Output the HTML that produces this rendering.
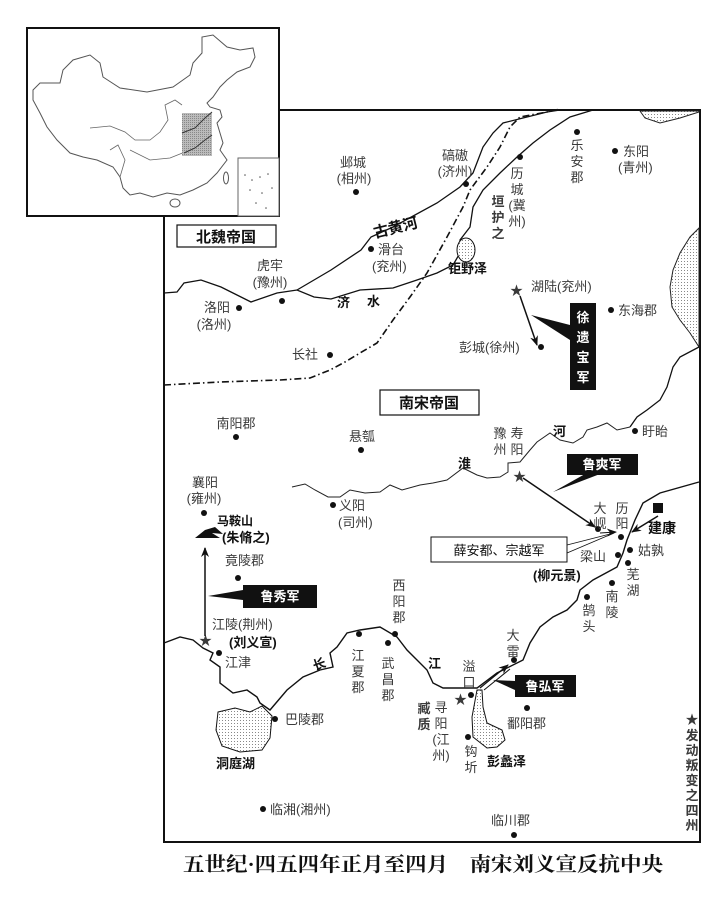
<!DOCTYPE html>
<html><head><meta charset="utf-8"><style>
html,body{margin:0;padding:0;background:#fff;}
svg{display:block;}
text{font-family:"Liberation Sans","Noto Sans CJK SC",sans-serif;font-size:13px;fill:#3a3a3a;}
.b{font-weight:bold;fill:#111;}
.v{text-anchor:middle;}
</style></head><body>
<svg width="727" height="899" viewBox="0 0 727 899" xmlns="http://www.w3.org/2000/svg">
<defs>
<pattern id="dots" width="3" height="3" patternUnits="userSpaceOnUse"><rect width="3" height="3" fill="#fff"/><rect width="1" height="1" fill="#888"/></pattern>
<pattern id="gray" width="2" height="2" patternUnits="userSpaceOnUse"><rect width="2" height="2" fill="#bbb"/><rect width="1" height="1" fill="#888"/></pattern>
<marker id="ah" markerWidth="10" markerHeight="8" refX="9" refY="4" orient="auto" markerUnits="userSpaceOnUse"><path d="M0,0 L10,4 L0,8 L3,4Z" fill="#111"/></marker>
</defs>

<rect x="164" y="110" width="536" height="732" fill="#fff" stroke="#111" stroke-width="2"/>

<rect x="27" y="28" width="252" height="188" fill="#fff" stroke="#111" stroke-width="2"/>
<path d="M33,90 L40,83 L60,83 L63,70 L73,60 L90,55 L100,63 L103,77 L120,88 L147,92 L173,87 L190,75 L193,63 L202,53 L202,37 L213,35 L227,47 L240,50 L253,48 L255,57 L250,67 L237,72 L227,80 L220,87 L213,97 L207,103 L210,107 L220,110 L222,117 L217,123 L220,133 L223,143 L220,150 L227,160 L217,173 L207,183 L193,190 L180,195 L167,193 L153,197 L140,193 L130,195 L123,188 L120,177 L113,167 L97,160 L83,157 L70,153 L57,140 L47,127 L40,113 L33,100Z" fill="none" stroke="#555" stroke-width="1"/>
<path d="M90,128 L110,126 L125,132 L135,140 L150,140 L160,132 L168,120 L165,105 L175,100 L182,105 M120,177 L125,160 L118,145 L110,150 M130,150 L150,160 L170,158 L190,150 L205,145" fill="none" stroke="#666" stroke-width="0.8"/>
<rect x="182" y="113" width="30" height="43" fill="url(#gray)"/>
<path d="M182,133 L195,128 L205,118 L212,112 M184,153 L195,148 L205,140 L212,135" fill="none" stroke="#333" stroke-width="1"/>
<rect x="238" y="158" width="41" height="58" fill="#fff" stroke="#666" stroke-width="1"/>
<ellipse cx="175" cy="203" rx="5" ry="4" fill="none" stroke="#555"/>
<ellipse cx="226" cy="178" rx="2.5" ry="6" fill="none" stroke="#555"/>
<g fill="#555"><circle cx="245" cy="175" r="0.8"/><circle cx="252" cy="180" r="0.8"/><circle cx="260" cy="177" r="0.8"/><circle cx="268" cy="174" r="0.8"/><circle cx="250" cy="190" r="0.8"/><circle cx="262" cy="193" r="0.8"/><circle cx="272" cy="188" r="0.8"/><circle cx="256" cy="203" r="0.8"/><circle cx="266" cy="208" r="0.8"/></g>

<path d="M640,111 L645,118 L660,123 L680,118 L699,112 L699,111Z" fill="url(#dots)" stroke="#222" stroke-width="1"/>
<path d="M699,228 L690,237 L680,253 L673,270 L670,287 L672,307 L680,320 L690,333 L699,347Z" fill="url(#dots)" stroke="#222" stroke-width="1"/>
<path d="M699,347 L680,357 L673,367 L667,387 L660,400 L647,410 L637,417 L630,427" fill="none" stroke="#111" stroke-width="1.3"/>

<path d="M164,293 L177,292 L184,283 L201,280 L221,287 L251,302 L277,293 L297,290 L314,297 L331,299 L360,290 L393,288 L417,280 L437,273 L453,265 L460,253 L460,240 L470,227 L473,207 L483,190 L500,173 L517,157 L533,143 L550,130 L570,117 L593,110" fill="none" stroke="#111" stroke-width="1.3"/>
<path d="M297,290 L331,270 L361,250 L371,237 L393,227 L437,203 L460,187 L473,173 L483,147 L493,133 L503,123 L527,117 L547,112 L560,110" fill="none" stroke="#111" stroke-width="1.3"/>
<ellipse cx="466" cy="250" rx="9" ry="12" fill="url(#dots)" stroke="#111" stroke-width="1"/>
<path d="M164,385 L220,382 L280,380 L310,378 L330,370 L345,362 L360,353 L377,343 L393,320 L410,297 L427,273 L447,237 L463,207 L470,190 L487,167 L500,147 L510,127 L520,117 L547,112 L560,109" fill="none" stroke="#111" stroke-width="1.6" stroke-dasharray="7,3,1.5,3"/>

<path d="M630,427 L617,430 L607,423 L597,427 L587,430 L583,437 L573,443 L560,440 L550,433 L537,442 L530,450 L520,462 L508,463 L508,472 L500,477 L487,478 L477,475 L463,468 L447,480 L433,483 L420,485 L402,490 L390,485 L380,492 L365,493 L350,490 L340,497 L328,497 L315,490 L305,484 L292,487" fill="none" stroke="#222" stroke-width="1"/>

<path d="M164,643 L180,637 L193,640 L203,648 L213,653 L210,660 L220,667 L220,683 L233,693 L247,690 L257,697 L260,703 L270,710 L287,690 L303,677 L320,670 L333,667 L330,653 L337,647 L347,633 L360,630 L380,627 L397,637 L407,650 L417,660 L427,670 L433,683 L443,688 L477,688 L497,673 L523,660 L530,643 L540,627 L553,617 L567,610 L577,600 L580,590 L593,580 L617,567 L623,553 L627,540 L635,520 L643,503 L660,493 L699,482" fill="none" stroke="#111" stroke-width="1.4"/>
<path d="M218,712 L235,708 L250,712 L262,706 L272,716 L270,738 L262,750 L240,752 L222,746 L216,730Z" fill="url(#dots)" stroke="#111" stroke-width="1"/>
<path d="M477,690 L482,690 L483,707 L487,723 L502,730 L505,740 L497,747 L487,748 L473,737 L472,717Z" fill="url(#dots)" stroke="#111" stroke-width="1"/>

<rect x="177" y="225" width="99" height="22" fill="#fff" stroke="#111" stroke-width="1.2"/>
<text x="226" y="242" class="b v" style="font-size:15px">北魏帝国</text>
<rect x="380" y="390" width="99" height="25" fill="#fff" stroke="#111" stroke-width="1.2"/>
<text x="429" y="408" class="b v" style="font-size:15px">南宋帝国</text>

<g fill="#111">
<circle cx="356" cy="192" r="3"/><circle cx="466" cy="184" r="3"/><circle cx="520" cy="157" r="3"/><circle cx="577" cy="132" r="3"/><circle cx="615" cy="151" r="3"/>
<circle cx="371" cy="249" r="3"/><circle cx="282" cy="301" r="3"/><circle cx="239" cy="308" r="3"/><circle cx="330" cy="355" r="3"/>
<circle cx="611" cy="310" r="3"/><circle cx="541" cy="347" r="3"/><circle cx="236" cy="437" r="3"/><circle cx="361" cy="450" r="3"/><circle cx="635" cy="431" r="3"/>
<circle cx="204" cy="513" r="3"/><circle cx="238" cy="578" r="3"/><circle cx="333" cy="505" r="3"/>
<circle cx="598" cy="529" r="3"/><circle cx="621" cy="537" r="3"/><circle cx="618" cy="555" r="3"/><circle cx="630" cy="550" r="3"/><circle cx="628" cy="563" r="3"/><circle cx="612" cy="583" r="3"/><circle cx="587" cy="597" r="3"/>
<circle cx="514" cy="660" r="3"/><circle cx="395" cy="634" r="3"/><circle cx="359" cy="634" r="3"/><circle cx="388" cy="643" r="3"/><circle cx="471" cy="695" r="3"/>
<circle cx="527" cy="708" r="3"/><circle cx="468" cy="737" r="3"/><circle cx="219" cy="653" r="3"/><circle cx="275" cy="719" r="3"/><circle cx="263" cy="809" r="3"/><circle cx="514" cy="835" r="3"/>
</g>
<rect x="653" y="503" width="10" height="10" fill="#111"/>

<g class="b" style="font-size:14px">
<text x="510" y="295">★</text><text x="513" y="481">★</text><text x="199" y="645">★</text><text x="454" y="704">★</text>
</g>

<text x="353" y="167" class="v">邺城</text><text x="354" y="183" class="v">(相州)</text>
<text x="455" y="160" class="v">碻磝</text><text x="455" y="176" class="v">(济州)</text>
<g class="v"><text x="517" y="178">历</text><text x="517" y="194">城</text><text x="517" y="210">(冀</text><text x="517" y="226">州)</text>
<text x="577" y="150">乐</text><text x="577" y="166">安</text><text x="577" y="182">郡</text></g>
<g class="b v"><text x="498" y="206">垣</text><text x="498" y="222">护</text><text x="498" y="238">之</text></g>
<text x="623" y="156">东阳</text><text x="618" y="172">(青州)</text>
<text x="375" y="238" class="b" style="font-size:15px" transform="rotate(-14 375 238)">古黄河</text>
<text x="378" y="254">滑台</text><text x="372" y="271">(兖州)</text>
<text x="448" y="273" class="b">钜野泽</text>
<text x="531" y="291">湖陆(兖州)</text>
<text x="618" y="315">东海郡</text>
<text x="459" y="352">彭城(徐州)</text>
<text x="270" y="270" class="v">虎牢</text><text x="270" y="287" class="v">(豫州)</text>
<text x="217" y="312" class="v">洛阳</text><text x="214" y="329" class="v">(洛州)</text>
<text x="337" y="307" class="b">济</text><text x="367" y="306" class="b">水</text>
<text x="292" y="359">长社</text>
<text x="236" y="428" class="v">南阳郡</text>
<text x="362" y="441" class="v">悬瓠</text>
<g class="v"><text x="500" y="438">豫</text><text x="500" y="454">州</text><text x="517" y="438">寿</text><text x="517" y="454">阳</text></g>
<text x="553" y="436" class="b">河</text>
<text x="642" y="436">盱眙</text>
<text x="458" y="468" class="b">淮</text>

<rect x="570" y="303" width="26" height="87" fill="#111"/>
<g style="font-size:15px;font-weight:bold;fill:#fff" text-anchor="middle"><text x="583" y="322" style="fill:#fff">徐</text><text x="583" y="342" style="fill:#fff">遗</text><text x="583" y="362" style="fill:#fff">宝</text><text x="583" y="382" style="fill:#fff">军</text></g>
<path d="M570,325 L531,315 L570,340Z" fill="#111"/>
<line x1="520" y1="296" x2="537" y2="345" stroke="#111" stroke-width="1.5" marker-end="url(#ah)"/>

<rect x="567" y="454" width="71" height="21" fill="#111"/>
<text x="602" y="469" class="v" style="fill:#fff;font-weight:bold">鲁爽军</text>
<path d="M585,474 L553,492 L600,474Z" fill="#111"/>
<line x1="523" y1="478" x2="595" y2="527" stroke="#111" stroke-width="1.5" marker-end="url(#ah)"/>

<rect x="431" y="537" width="136" height="25" fill="#fff" stroke="#111" stroke-width="1"/>
<text x="499" y="555" class="v" style="fill:#111">薛安都、宗越军</text>
<path d="M567,545 L614,533 L567,553" fill="none" stroke="#111" stroke-width="0.8"/>
<line x1="600" y1="533" x2="616" y2="532" stroke="#111" stroke-width="1" marker-end="url(#ah)"/>
<line x1="658" y1="516" x2="632" y2="532" stroke="#111" stroke-width="1.5" marker-end="url(#ah)"/>

<g class="v"><text x="600" y="513">大</text><text x="600" y="528">岘</text><text x="622" y="513">历</text><text x="622" y="528">阳</text></g>
<text x="648" y="533" class="b" style="font-size:14px">建康</text>
<text x="580" y="561">梁山</text>
<text x="638" y="555">姑孰</text>
<text x="533" y="580" class="b">(柳元景)</text>
<g class="v"><text x="633" y="579">芜</text><text x="633" y="595">湖</text>
<text x="612" y="601">南</text><text x="612" y="617">陵</text>
<text x="589" y="615">鹄</text><text x="589" y="631">头</text>
<text x="513" y="640">大</text><text x="513" y="656">雷</text>
<text x="399" y="590">西</text><text x="399" y="606">阳</text><text x="399" y="622">郡</text>
<text x="358" y="660">江</text><text x="358" y="676">夏</text><text x="358" y="692">郡</text>
<text x="388" y="668">武</text><text x="388" y="684">昌</text><text x="388" y="700">郡</text>
<text x="469" y="671">溢</text><text x="469" y="687">口</text>
<text x="441" y="712">寻</text><text x="441" y="728">阳</text><text x="441" y="744">(江</text><text x="441" y="760">州)</text>
<text x="471" y="756">钩</text><text x="471" y="772">圻</text>
</g>
<g class="b v"><text x="424" y="713">臧</text><text x="424" y="729">质</text></g>
<text x="313" y="671" class="b" transform="rotate(-20 313 666)">长</text>
<text x="428" y="668" class="b">江</text>

<rect x="515" y="675" width="61" height="22" fill="#111"/>
<text x="545" y="691" class="v" style="fill:#fff;font-weight:bold">鲁弘军</text>
<path d="M515,681 L493,680 L515,690Z" fill="#111"/>
<line x1="480" y1="688" x2="508" y2="665" stroke="#111" stroke-width="1.2" marker-end="url(#ah)"/>
<line x1="484" y1="690" x2="510" y2="669" stroke="#111" stroke-width="1"/>
<text x="507" y="728">鄱阳郡</text>
<text x="487" y="766" class="b">彭蠡泽</text>

<text x="205" y="487" class="v">襄阳</text><text x="204" y="503" class="v">(雍州)</text>
<path d="M195,538 L205,530 L215,527 L223,534 L212,533 L220,538Z" fill="#111"/>
<text x="217" y="525" class="b" style="font-size:12px">马鞍山</text>
<text x="222" y="542" class="b">(朱脩之)</text>
<line x1="205" y1="636" x2="205" y2="548" stroke="#111" stroke-width="1.5" marker-end="url(#ah)"/>
<text x="225" y="565">竟陵郡</text>
<rect x="243" y="585" width="74" height="23" fill="#111"/>
<text x="280" y="601" class="v" style="fill:#fff;font-weight:bold">鲁秀军</text>
<path d="M243,590 L208,596 L243,600Z" fill="#111"/>
<text x="339" y="510">义阳</text><text x="338" y="527">(司州)</text>
<text x="212" y="629">江陵(荆州)</text>
<text x="229" y="647" class="b">(刘义宣)</text>
<text x="225" y="667">江津</text>
<text x="285" y="724">巴陵郡</text>
<text x="216" y="768" class="b">洞庭湖</text>
<text x="270" y="814">临湘(湘州)</text>
<text x="491" y="825">临川郡</text>

<g class="b v"><text x="692" y="724">★</text><text x="692" y="740">发</text><text x="692" y="755">动</text><text x="692" y="770">叛</text><text x="692" y="785">变</text><text x="692" y="800">之</text><text x="692" y="815">四</text><text x="692" y="830">州</text></g>

<text x="183" y="871" style="font-family:'Liberation Serif','Noto Serif CJK SC',serif;font-size:20px;font-weight:bold;fill:#111" textLength="480" lengthAdjust="spacingAndGlyphs">五世纪·四五四年正月至四月　南宋刘义宣反抗中央</text>
</svg>
</body></html>
